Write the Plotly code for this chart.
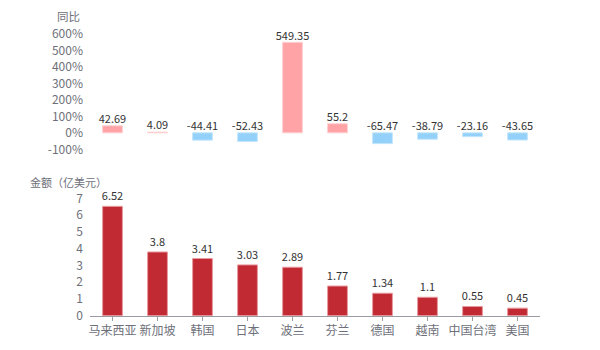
import plotly.graph_objects as go

categories = ["马来西亚", "新加坡", "韩国", "日本", "波兰", "芬兰", "德国", "越南", "中国台湾", "美国"]
yoy_pct = [42.69, 4.09, -44.41, -52.43, 549.35, 55.2, -65.47, -38.79, -23.16, -43.65]
amount = [6.52, 3.8, 3.41, 3.03, 2.89, 1.77, 1.34, 1.1, 0.55, 0.45]
yoy_ticks = [-100, 0, 100, 200, 300, 400, 500, 600]
amount_ticks = [0, 1, 2, 3, 4, 5, 6, 7]

FONT = "Noto Sans CJK SC, Microsoft YaHei, sans-serif"
POS = "#FFA3A6"
NEG = "#93D0FA"
RED = "#C22A33"
TICK = "#6e7079"
LABEL = "#333333"

fig = go.Figure()

fig.add_trace(go.Bar(
    x=categories, y=yoy_pct, xaxis="x2", yaxis="y2",
    marker=dict(color=[POS if v >= 0 else NEG for v in yoy_pct],
                line=dict(color=["#FFD0D2" if v >= 0 else "#C4E6FC" for v in yoy_pct], width=1)),
    width=0.44, hoverinfo="skip", showlegend=False,
))
fig.add_trace(go.Scatter(
    x=categories, y=[max(v, 0) for v in yoy_pct], xaxis="x2", yaxis="y2",
    mode="text", text=[f"{v:g}" for v in yoy_pct], textposition="top center",
    textfont=dict(family=FONT, size=11, color=LABEL), cliponaxis=False,
    hoverinfo="skip", showlegend=False,
))

fig.add_trace(go.Bar(
    x=categories, y=amount, xaxis="x", yaxis="y",
    marker=dict(color=RED, line=dict(color="#E89A9E", width=1)),
    width=0.44, text=[f"{v:g}" for v in amount], textposition="outside",
    constraintext="none",
    textfont=dict(family=FONT, size=11, color=LABEL), cliponaxis=False,
    hoverinfo="skip", showlegend=False,
))

fig.update_layout(
    width=600, height=350,
    margin=dict(l=0, r=0, t=0, b=0),
    paper_bgcolor="white", plot_bgcolor="white",
    font=dict(family=FONT, size=12, color=TICK),
    bargap=0.56,
    uniformtext=dict(mode=False),
    xaxis=dict(domain=[0.15, 0.9], anchor="y", showgrid=False, showline=True,
               linecolor="#9a9ca3", linewidth=1, ticks="outside", ticklen=4,
               tickcolor="#9a9ca3", tickfont=dict(family=FONT, size=12, color=TICK),
               tickangle=0, zeroline=False, automargin=False),
    yaxis=dict(domain=[0.098, 0.4334], anchor="x", range=[0, 7], tickvals=amount_ticks,
               showgrid=False, showline=False, zeroline=False, automargin=False,
               tickfont=dict(family=FONT, size=12, color=TICK), ticklabelstandoff=6),
    xaxis2=dict(domain=[0.15, 0.9], anchor="y2", matches="x", showgrid=False, showline=False,
                showticklabels=False, ticks="", zeroline=False, automargin=False),
    yaxis2=dict(domain=[0.5734, 0.9029], anchor="x2", range=[-100, 600], tickvals=yoy_ticks,
                ticktext=[f"{v}%" for v in yoy_ticks],
                showgrid=False, showline=False, zeroline=False, automargin=False,
                tickfont=dict(family=FONT, size=12, color=TICK), ticklabelstandoff=6),
    annotations=[
        dict(text="同比", xref="paper", yref="paper", x=82 / 600, y=1 - 16 / 350,
             xanchor="right", yanchor="middle", showarrow=False,
             font=dict(family=FONT, size=11.5, color=TICK)),
        dict(text="金额（亿美元）", xref="paper", yref="paper", x=28 / 600, y=1 - 182 / 350,
             xanchor="left", yanchor="middle", showarrow=False,
             font=dict(family=FONT, size=11, color=TICK)),
    ],
)

fig.write_html("out.html")
